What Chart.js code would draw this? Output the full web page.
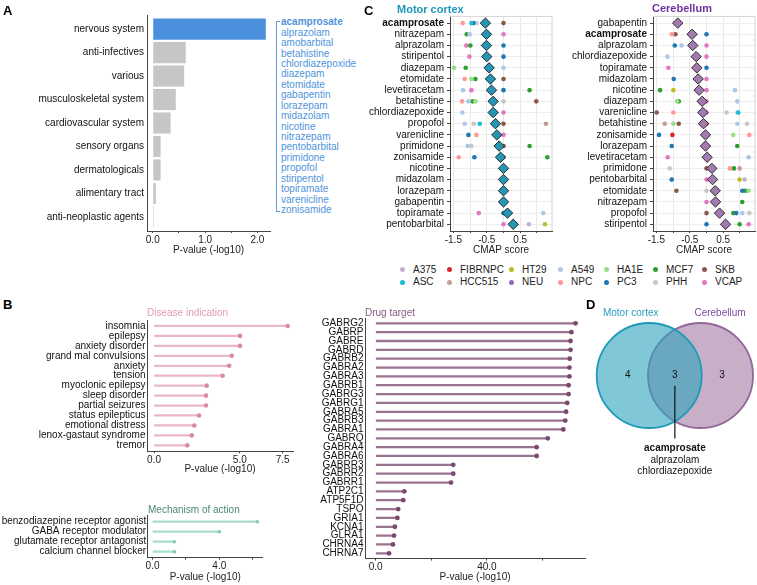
<!DOCTYPE html>
<html>
<head>
<meta charset="utf-8">
<title>Drug enrichment overview</title>
<script src="https://cdn.jsdelivr.net/npm/chart.js@4.4.1/dist/chart.umd.min.js"></script>
<style>
  body { margin: 0; background: #fff; }
  #page { position: relative; width: 757px; height: 585px; overflow: hidden; font-family: 'Liberation Sans', Arial, sans-serif; }
  #page canvas { position: absolute; }
  .txt { position: absolute; white-space: nowrap; }
</style>
</head>
<body>
<div id="page"></div>
<script>
// ---- A: ATC class enrichment ----
const atcClasses = ['nervous system', 'anti-infectives', 'various', 'musculoskeletal system', 'cardiovascular system',
  'sensory organs', 'dermatologicals', 'alimentary tract', 'anti-neoplastic agents'];
const atcP = [2.16, 0.63, 0.60, 0.44, 0.34, 0.15, 0.15, 0.06, 0.02];
const nervousDrugs = ['acamprosate', 'alprazolam', 'amobarbital', 'betahistine', 'chlordiazepoxide', 'diazepam',
  'etomidate', 'gabapentin', 'lorazepam', 'midazolam', 'nicotine', 'nitrazepam', 'pentobarbital', 'primidone',
  'propofol', 'stiripentol', 'topiramate', 'varenicline', 'zonisamide'];

// ---- B: enrichment lollipops ----
const diseaseNames = ['insomnia', 'epilepsy', 'anxiety disorder', 'grand mal convulsions', 'anxiety', 'tension',
  'myoclonic epilepsy', 'sleep disorder', 'partial seizures', 'status epilepticus', 'emotional distress',
  'lenox-gastaut syndrome', 'tremor'];
const diseaseP = [7.79, 5.01, 5.01, 4.53, 4.38, 4.0, 3.07, 3.03, 3.03, 2.62, 2.35, 2.2, 1.94];

const mechanismNames = ['benzodiazepine receptor agonist', 'GABA receptor modulator', 'glutamate receptor antagonist', 'calcium channel blocker'];
const mechanismP = [6.28, 4.0, 1.31, 1.31];

const targetGenes = ['GABRG2', 'GABRP', 'GABRE', 'GABRD', 'GABRB2', 'GABRA2', 'GABRA3', 'GABRB1', 'GABRG3', 'GABRG1',
  'GABRA5', 'GABRB3', 'GABRA1', 'GABRQ', 'GABRA4', 'GABRA6', 'GABRR3', 'GABRR2', 'GABRR1', 'ATP2C1', 'ATP5F1D',
  'TSPO', 'GRIA1', 'KCNA1', 'GLRA1', 'CHRNA4', 'CHRNA7'];
const targetP = [71.9, 70.4, 70.1, 70.1, 69.8, 69.7, 69.7, 69.4, 69.4, 68.9, 68.5, 68.2, 67.5, 61.9, 57.9, 57.9,
  27.9, 27.9, 27.1, 10.3, 9.9, 8.1, 7.8, 6.9, 6.6, 6.2, 4.8];

// ---- C: CMAP scores ----
const cellLines = ['A375', 'ASC', 'FIBRNPC', 'HCC515', 'HT29', 'NEU', 'A549', 'NPC', 'HA1E', 'PC3', 'MCF7', 'PHH', 'SKB', 'VCAP'];
const cellColors = ['#c5b0d5', '#17becf', '#d62728', '#c49c94', '#bcbd22', '#9467bd', '#aec7e8', '#ff9896',
  '#98df8a', '#1f77b4', '#2ca02c', '#c7c7c7', '#8c564b', '#e377c2'];

const motorDrugs = ['acamprosate', 'nitrazepam', 'alprazolam', 'stiripentol', 'diazepam', 'etomidate', 'levetiracetam',
  'betahistine', 'chlordiazepoxide', 'propofol', 'varenicline', 'primidone', 'zonisamide', 'nicotine', 'midazolam',
  'lorazepam', 'gabapentin', 'topiramate', 'pentobarbital'];
const motorScore = [-0.54, -0.51, -0.51, -0.50, -0.43, -0.39, -0.36, -0.31, -0.31, -0.24, -0.20, -0.13, -0.09,
  0, 0, 0, 0, 0.12, 0.29];
// [drug, cell line, score]
const motorDots = [
  ['acamprosate', 'NPC', -1.22], ['acamprosate', 'ASC', -0.96], ['acamprosate', 'PC3', -0.9], ['acamprosate', 'PHH', -0.81], ['acamprosate', 'SKB', 0],
  ['nitrazepam', 'MCF7', -1.1], ['nitrazepam', 'A549', -1.01], ['nitrazepam', 'VCAP', 0],
  ['alprazolam', 'VCAP', -1.11], ['alprazolam', 'MCF7', -0.99], ['alprazolam', 'PC3', 0],
  ['stiripentol', 'VCAP', -1.02], ['stiripentol', 'PC3', 0],
  ['diazepam', 'HA1E', -1.48], ['diazepam', 'MCF7', -1.13], ['diazepam', 'A549', 0],
  ['etomidate', 'NPC', -1.16], ['etomidate', 'HA1E', -0.96], ['etomidate', 'MCF7', -0.84], ['etomidate', 'SKB', 0],
  ['levetiracetam', 'A549', -1.21], ['levetiracetam', 'VCAP', -0.96], ['levetiracetam', 'PC3', 0], ['levetiracetam', 'MCF7', 0.78],
  ['betahistine', 'NPC', -1.24], ['betahistine', 'A549', -1.05], ['betahistine', 'MCF7', -0.92], ['betahistine', 'HA1E', -0.84], ['betahistine', 'PHH', 0], ['betahistine', 'SKB', 0.98],
  ['chlordiazepoxide', 'A549', -1.23], ['chlordiazepoxide', 'VCAP', 0],
  ['propofol', 'A549', -1.16], ['propofol', 'PHH', -0.89], ['propofol', 'ASC', -0.71], ['propofol', 'SKB', 0], ['propofol', 'HCC515', 1.27],
  ['varenicline', 'PC3', -1.05], ['varenicline', 'NPC', -0.81], ['varenicline', 'VCAP', 0],
  ['primidone', 'A549', -1.07], ['primidone', 'PHH', -0.96], ['primidone', 'SKB', 0], ['primidone', 'MCF7', 0.78],
  ['zonisamide', 'NPC', -1.34], ['zonisamide', 'PC3', -0.87], ['zonisamide', 'NEU', 0], ['zonisamide', 'MCF7', 1.31],
  ['topiramate', 'VCAP', -0.74], ['topiramate', 'PC3', 0], ['topiramate', 'A549', 1.19],
  ['pentobarbital', 'VCAP', 0], ['pentobarbital', 'A375', 0.76], ['pentobarbital', 'HT29', 1.24]
];

const cerebDrugs = ['gabapentin', 'acamprosate', 'alprazolam', 'chlordiazepoxide', 'topiramate', 'midazolam', 'nicotine',
  'diazepam', 'varenicline', 'betahistine', 'zonisamide', 'lorazepam', 'levetiracetam', 'primidone', 'pentobarbital',
  'etomidate', 'nitrazepam', 'propofol', 'stiripentol'];
const cerebScore = [-0.86, -0.43, -0.41, -0.31, -0.29, -0.25, -0.22, -0.13, -0.11, -0.09, -0.03, -0.03, 0.02,
  0.16, 0.18, 0.26, 0.27, 0.39, 0.57];
const cerebDots = [
  ['acamprosate', 'NPC', -1.04], ['acamprosate', 'SKB', -0.93], ['acamprosate', 'PC3', 0],
  ['alprazolam', 'PC3', -0.95], ['alprazolam', 'A549', -0.75], ['alprazolam', 'VCAP', 0],
  ['chlordiazepoxide', 'A549', -1.17], ['chlordiazepoxide', 'VCAP', 0],
  ['topiramate', 'VCAP', -1.14], ['topiramate', 'PC3', 0],
  ['midazolam', 'PC3', -0.98], ['midazolam', 'VCAP', 0],
  ['nicotine', 'MCF7', -1.39], ['nicotine', 'HT29', -0.99], ['nicotine', 'VCAP', 0], ['nicotine', 'A549', 0.85],
  ['diazepam', 'HA1E', -0.88], ['diazepam', 'MCF7', -0.83], ['diazepam', 'VCAP', 0], ['diazepam', 'A549', 0.92],
  ['varenicline', 'SKB', -1.49], ['varenicline', 'NPC', -0.99], ['varenicline', 'VCAP', 0], ['varenicline', 'PHH', 0.6], ['varenicline', 'A549', 0.93], ['varenicline', 'ASC', 0.95],
  ['betahistine', 'HCC515', -1.25], ['betahistine', 'HA1E', -0.99], ['betahistine', 'SKB', -0.83], ['betahistine', 'FIBRNPC', 0], ['betahistine', 'A549', 0.92], ['betahistine', 'PHH', 1.21],
  ['zonisamide', 'PC3', -1.42], ['zonisamide', 'FIBRNPC', -1.02], ['zonisamide', 'HA1E', 0.8], ['zonisamide', 'NPC', 1.28],
  ['lorazepam', 'PC3', -1.04], ['lorazepam', 'MCF7', 0.92],
  ['levetiracetam', 'VCAP', -1.16], ['levetiracetam', 'A549', 1.26],
  ['primidone', 'PHH', -1.1], ['primidone', 'SKB', 0], ['primidone', 'NPC', 0.7], ['primidone', 'MCF7', 0.82], ['primidone', 'HCC515', 0.99],
  ['pentobarbital', 'PC3', -1.04], ['pentobarbital', 'VCAP', 0], ['pentobarbital', 'HT29', 0.99], ['pentobarbital', 'A375', 1.14],
  ['etomidate', 'SKB', -0.9], ['etomidate', 'PHH', 0], ['etomidate', 'PC3', 1.07], ['etomidate', 'MCF7', 1.16], ['etomidate', 'HA1E', 1.26],
  ['nitrazepam', 'VCAP', 0], ['nitrazepam', 'MCF7', 1.07],
  ['propofol', 'SKB', 0], ['propofol', 'MCF7', 0.8], ['propofol', 'PC3', 0.89], ['propofol', 'A549', 1.07], ['propofol', 'PHH', 1.28],
  ['stiripentol', 'PC3', 0], ['stiripentol', 'MCF7', 0.99], ['stiripentol', 'VCAP', 1.26]
];
const cmapTicks = [-1.5, -1, -0.5, 0, 0.5, 1];
const cmapLabels = [-1.5, -0.5, 0.5];

// ---- D: overlap ----
const vennSets = ['Motor cortex', 'Cerebellum'];
const vennCounts = [4, 3, 3];   // motor only, shared, cerebellum only
const vennShared = ['acamprosate', 'alprazolam', 'chlordiazepoxide'];

// ---------------------------------------------------------------
const FONT = "'Liberation Sans', Arial, sans-serif";
Chart.defaults.font.family = FONT;
Chart.defaults.font.size = 10;
Chart.defaults.color = '#222';
Chart.defaults.animation = false;
Chart.defaults.responsive = false;
Chart.defaults.devicePixelRatio = 1;
Chart.defaults.layout.autoPadding = false;
Chart.defaults.plugins.legend.display = false;
Chart.defaults.plugins.tooltip.enabled = false;

const page = document.getElementById('page');

function makeCanvas(box) {
  const c = document.createElement('canvas');
  const w = box[2] - box[0], h = box[3] - box[1];
  c.width = w; c.height = h;
  c.style.left = box[0] + 'px'; c.style.top = box[1] + 'px';
  c.style.width = w + 'px'; c.style.height = h + 'px';
  page.appendChild(c);
  return c.getContext('2d');
}

// box = canvas, plot = chart area; both [left, top, right, bottom] in page px
function place(box, plot) {
  return {
    ctx: makeCanvas(box),
    padding: { left: 0, bottom: 0, top: plot[1] - box[1], right: box[2] - plot[2] },
    yFit: a => { a.width = plot[0] - box[0]; a.paddingTop = 0; a.paddingBottom = 0; },
    xFit: a => { a.height = box[3] - plot[3]; a.paddingLeft = 0; a.paddingRight = 0; }
  };
}

function addText(str, left, cy, size, color, weight) {
  const d = document.createElement('div');
  d.className = 'txt';
  d.textContent = str;
  d.style.left = left + 'px';
  d.style.top = (cy - size * 0.6) + 'px';
  d.style.fontSize = size + 'px';
  d.style.lineHeight = (size * 1.2) + 'px';
  d.style.color = color;
  if (weight) d.style.fontWeight = weight;
  page.appendChild(d);
  return d;
}

function xAxis(fit, min, max, tickVals, labelVals, title) {
  return {
    type: 'linear', min, max,
    afterBuildTicks: a => { a.ticks = tickVals.map(v => ({ value: v })); },
    ticks: { autoSkip: false, maxRotation: 0, padding: 1, color: '#222',
      callback: v => labelVals.includes(v) ? v.toFixed(1) : '' },
    grid: { drawOnChartArea: false, tickLength: 2, tickColor: '#444', color: '#444' },
    border: { color: '#444', width: 1 },
    title: { display: true, text: title, padding: 0, color: '#222', font: { size: 10 } },
    afterFit: fit
  };
}

function yAxis(fit, names, pad) {
  return {
    type: 'linear', reverse: true, offset: false, min: -0.6, max: names.length - 0.4,
    afterBuildTicks: a => { a.ticks = names.map((n, i) => ({ value: i })); },
    ticks: { autoSkip: false, padding: pad, color: '#111', callback: v => names[v] },
    grid: { display: false, drawTicks: false },
    border: { color: '#444', width: 1 },
    afterFit: fit
  };
}

// ---- A ----
(function () {
  const p = place([0, 8, 274, 256], [147, 15, 270, 231]);
  new Chart(p.ctx, {
    type: 'bar',
    data: { datasets: [{
      data: atcP.map((v, i) => ({ x: v, y: i })),
      backgroundColor: atcClasses.map(c => c === 'nervous system' ? '#4a90dc' : '#c6c6c6'),
      categoryPercentage: 1, barPercentage: 0.9
    }] },
    options: {
      indexAxis: 'y',
      layout: { padding: p.padding },
      scales: {
        x: xAxis(p.xFit, -0.11, 2.24, [0, 0.5, 1, 1.5, 2], [0, 1, 2], 'P-value (-log10)'),
        y: yAxis(p.yFit, atcClasses, 3)
      }
    }
  });

  // bracketed list of nervous-system drugs
  const br = document.createElement('div');
  br.style.cssText = 'position:absolute;left:276px;top:21px;width:3px;height:189px;border:1.2px solid #5a9ce0;border-right:none;';
  page.appendChild(br);
  nervousDrugs.forEach((d, i) => addText(d, 281, 22.3 + i * 10.43, 10, '#4f94dc', i === 0 ? 'bold' : null));
})();

// ---- B ----
function lollipop(box, plot, names, values, xMin, xMax, tickVals, labelVals, lineColor, dotColor, dotR) {
  const p = place(box, plot);
  const pts = values.map((v, i) => ({ x: v, y: i }));
  new Chart(p.ctx, {
    type: 'bar',
    data: { datasets: [
      { type: 'scatter', data: pts, backgroundColor: dotColor, pointRadius: dotR, borderWidth: 0, order: 0, clip: false },
      { type: 'bar', data: pts, backgroundColor: lineColor, barThickness: 1.6, borderWidth: 0, order: 1 }
    ] },
    options: {
      indexAxis: 'y',
      layout: { padding: p.padding },
      scales: {
        x: xAxis(p.xFit, xMin, xMax, tickVals, labelVals, 'P-value (-log10)'),
        y: yAxis(p.yFit, names, 1.5)
      }
    }
  });
}

lollipop([0, 318, 296, 475], [147, 320, 293, 451.3], diseaseNames, diseaseP, -0.41, 8.1,
  [0, 5, 7.5], [0, 5, 7.5], '#ebb6c7', '#d98aa6', 2.3);
lollipop([0, 512, 266, 583], [147.7, 515.7, 262.7, 557.7], mechanismNames, mechanismP, -0.29, 6.6,
  [0, 2, 4, 6], [0, 4], '#a9ddd1', '#80c8b8', 1.8);
lollipop([300, 316, 588, 583], [365, 318, 585, 558.6], targetGenes, targetP, -3.85, 75.3,
  [0, 20, 40, 60], [0, 40], '#9a7390', '#7a4a6d', 2.4);

// ---- C ----
const topRightFrame = {
  id: 'topRightFrame',
  beforeDatasetsDraw(chart) {
    const { ctx, chartArea: a } = chart;
    ctx.save();
    ctx.strokeStyle = '#d4d4d4';
    ctx.lineWidth = 1;
    ctx.beginPath();
    ctx.moveTo(a.left, a.top); ctx.lineTo(a.right, a.top); ctx.lineTo(a.right, a.bottom);
    ctx.stroke();
    ctx.restore();
  }
};

function cmapPanel(box, plot, drugs, scores, dots, diamondColor) {
  const p = place(box, plot);
  const sets = [{
    data: drugs.map((d, i) => ({ x: scores[i], y: i })),
    pointStyle: 'rectRot', pointRadius: 5.2, backgroundColor: diamondColor,
    borderColor: '#1c1c1c', borderWidth: 0.9, order: 0
  }];
  cellLines.forEach((cl, k) => {
    const pts = dots.filter(d => d[1] === cl).map(d => ({ x: d[2], y: drugs.indexOf(d[0]) }));
    if (pts.length) sets.push({ label: cl, data: pts, backgroundColor: cellColors[k], pointRadius: 2.3, borderWidth: 0, order: 1 });
  });
  const x = xAxis(p.xFit, -1.6, 1.45, cmapTicks, cmapLabels, 'CMAP score');
  x.grid = { drawOnChartArea: true, color: '#e9e9e9', tickLength: 2, tickColor: '#444' };
  x.ticks.callback = v => cmapLabels.includes(v) ? String(v) : '';
  const y = yAxis(p.yFit, drugs, 3);
  y.grid = { display: true, color: '#eeeeee', drawTicks: true, tickLength: 3, tickColor: '#444' };
  y.ticks.font = c => ({ size: 10, weight: (c.tick && drugs[c.tick.value] === 'acamprosate') ? 'bold' : 'normal' });
  new Chart(p.ctx, {
    type: 'scatter',
    data: { datasets: sets },
    options: { layout: { padding: p.padding }, scales: { x, y } },
    plugins: [topRightFrame]
  });
}

cmapPanel([360, 12, 556, 256], [450, 16.4, 552, 231], motorDrugs, motorScore, motorDots, '#2596b4');
cmapPanel([565, 12, 757, 256], [653, 16.4, 755, 231], cerebDrugs, cerebScore, cerebDots, '#a47bb0');

addText('Motor cortex', 397, 10, 11, '#1e96be', 'bold');
addText('Cerebellum', 652, 9, 11, '#6e32a0', 'bold');

// legend, filled column by column (2 rows)
const legendColX = [402, 449, 511, 560, 606, 655, 704];
cellLines.forEach((cl, k) => {
  const cx = legendColX[Math.floor(k / 2)], cy = (k % 2) ? 282 : 269.5;
  const dot = document.createElement('div');
  dot.style.cssText = `position:absolute;left:${cx - 2.5}px;top:${cy - 2.5}px;width:5px;height:5px;border-radius:50%;background:${cellColors[k]};`;
  page.appendChild(dot);
  addText(cl, cx + 11, cy, 10, '#222');
});

// ---- D ----
const vennFill = ['rgba(43,163,190,0.6)', 'rgba(163,122,163,0.6)'];
const vennStroke = ['#1e9ab8', '#94679b'];
const vennTitleColor = ['#2a9fc0', '#7a4aa0'];
const vennTitleX = [-0.36, 1.38];
const vennCountX = [-0.42, 0.5, 1.42];

const vennText = {
  id: 'vennText',
  afterDatasetsDraw(chart) {
    const { ctx, scales: { x, y } } = chart;
    const px = v => x.getPixelForValue(v), py = v => y.getPixelForValue(v);
    ctx.save();
    ctx.textAlign = 'center';
    ctx.textBaseline = 'middle';
    ctx.font = '10px ' + FONT;
    vennSets.forEach((s, i) => { ctx.fillStyle = vennTitleColor[i]; ctx.fillText(s, px(vennTitleX[i]), py(1.21)); });
    ctx.fillStyle = '#111';
    vennCounts.forEach((n, i) => ctx.fillText(String(n), px(vennCountX[i]), py(0)));
    ctx.strokeStyle = '#111';
    ctx.lineWidth = 1.2;
    ctx.beginPath();
    ctx.moveTo(px(vennCountX[1]), py(-0.2));
    ctx.lineTo(px(vennCountX[1]), py(-1.23));
    ctx.stroke();
    vennShared.forEach((d, i) => {
      ctx.font = (i === 0 ? 'bold ' : '') + '10px ' + FONT;
      ctx.fillText(d, px(vennCountX[1]), py(-1.42 - 0.228 * i));
    });
    ctx.restore();
  }
};

new Chart(makeCanvas([586, 300, 757, 480]), {
  type: 'bubble',
  data: { datasets: vennSets.map((s, i) => ({
    label: s, data: [{ x: i, y: 0, r: 52.5 }], clip: false,
    backgroundColor: vennFill[i], borderColor: vennStroke[i], borderWidth: 1.8
  })) },
  options: {
    layout: { padding: 0, autoPadding: false },
    scales: {
      x: { type: 'linear', display: false, min: -1.232, max: 2.101 },
      y: { type: 'linear', display: false, min: -2.037, max: 1.472 }
    }
  },
  plugins: [vennText]
});

// panel letters and sub-titles
addText('A', 3, 11, 13, '#000', 'bold');
addText('B', 3, 305, 13, '#000', 'bold');
addText('C', 364, 11, 13, '#000', 'bold');
addText('D', 586, 305, 13, '#000', 'bold');
addText('Disease indication', 147, 313, 10, '#e39ab5');
addText('Mechanism of action', 148, 510, 10, '#4b877a');
addText('Drug target', 365, 313, 10, '#8a5a7d');
</script>
</body>
</html>
